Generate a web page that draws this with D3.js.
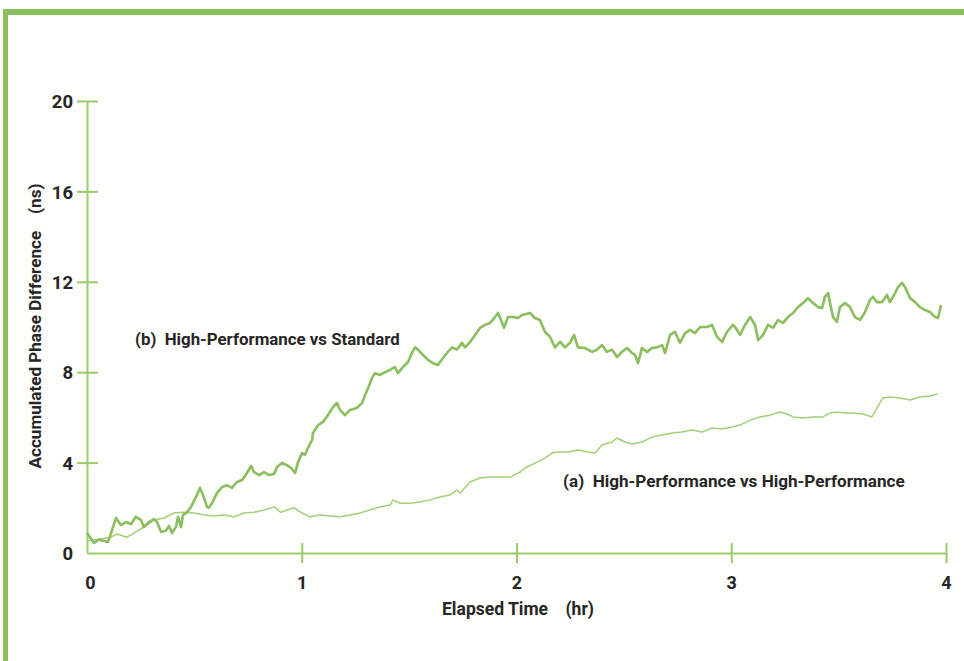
<!DOCTYPE html>
<html>
<head>
<meta charset="utf-8">
<script src="https://cdn.jsdelivr.net/npm/d3@7"></script>
<style>
  html, body { margin: 0; padding: 0; background: #fefefc; }
  svg { display: block; }
  text { font-family: Roboto, "Open Sans", sans-serif; font-weight: 700; fill: #262626; }
</style>
</head>
<body>
<svg id="chart" width="964" height="661"></svg>
<script>
// ---- Data (hours, ns) ----
const xTickValues = [0, 1, 2, 3, 4];
const yTickValues = [0, 4, 8, 12, 16, 20];
const xTitle = "Elapsed Time    (hr)";
const yTitle = "Accumulated Phase Difference    (ns)";
const labelB = "(b)  High-Performance vs Standard";
const labelA = "(a)  High-Performance vs High-Performance";

// (b) High-Performance vs Standard
const timeB = [0.000,0.033,0.056,0.079,0.098,0.112,0.135,0.158,0.182,0.205,0.228,0.251,0.265,0.289,0.312,0.326,0.345,0.368,0.382,0.396,0.414,0.424,0.438,0.447,0.466,0.484,0.508,0.526,0.540,0.559,0.568,0.582,0.605,0.629,0.652,0.675,0.698,0.722,0.745,0.764,0.778,0.801,0.824,0.848,0.871,0.885,0.908,0.931,0.950,0.969,0.983,1.001,
  1.015,1.029,1.048,1.052,1.076,1.099,1.122,1.146,1.164,1.178,1.201,1.225,1.257,1.281,1.295,1.309,1.327,1.341,1.364,1.388,1.411,1.434,1.448,1.467,1.481,1.495,1.513,1.527,1.541,1.565,1.588,1.611,1.634,1.658,1.676,1.700,1.723,1.746,1.760,1.784,1.807,1.830,1.853,1.877,1.900,1.914,1.928,1.942,1.960,1.984,2.007,
  2.026,2.063,2.086,2.109,2.133,2.156,2.179,2.203,2.226,2.249,2.268,2.286,2.319,2.352,2.375,2.398,2.421,2.445,2.468,2.491,2.515,2.538,2.552,2.566,2.584,2.608,2.631,2.654,2.678,2.692,2.715,2.738,2.761,2.785,2.808,2.831,2.855,2.887,2.910,2.934,2.957,2.980,3.008,
  3.018,3.041,3.064,3.088,3.111,3.125,3.148,3.171,3.195,3.218,3.241,3.264,3.288,3.311,3.334,3.357,3.381,3.404,3.423,3.436,3.451,3.460,3.474,3.492,3.506,3.530,3.553,3.576,3.600,3.623,3.646,3.660,3.679,3.702,3.725,3.739,3.763,3.777,3.795,3.809,3.832,3.856,3.879,3.902,3.926,3.949,3.963,3.977];
const valueB = [0.88,0.44,0.60,0.53,0.49,0.88,1.55,1.24,1.37,1.28,1.60,1.46,1.15,1.37,1.50,1.37,0.93,1.00,1.20,0.88,1.15,1.60,1.15,1.68,1.80,2.04,2.48,2.88,2.57,2.04,2.00,2.20,2.65,2.92,3.00,2.88,3.14,3.23,3.54,3.85,3.58,3.45,3.58,3.45,3.50,3.80,3.98,3.89,3.76,3.54,4.03,4.42,
  4.34,4.65,5.00,5.30,5.66,5.80,6.10,6.46,6.64,6.33,6.10,6.33,6.42,6.64,6.99,7.30,7.74,7.96,7.88,8.00,8.10,8.23,7.96,8.18,8.32,8.45,8.85,9.10,9.00,8.76,8.54,8.40,8.32,8.63,8.85,9.10,9.00,9.30,9.10,9.34,9.65,9.96,10.09,10.18,10.44,10.62,10.31,9.96,10.44,10.44,10.40,
  10.53,10.62,10.40,10.31,9.78,9.56,9.10,9.34,9.10,9.30,9.65,9.10,9.07,8.90,9.00,9.20,8.90,9.00,8.67,8.90,9.07,8.85,8.76,8.40,9.07,8.90,9.07,9.10,9.20,8.85,9.65,9.78,9.30,9.73,9.87,9.73,10.00,10.00,10.09,9.56,9.34,9.78,10.09,
  10.00,9.65,10.09,10.44,10.09,9.42,9.65,10.09,9.96,10.31,10.18,10.44,10.62,10.88,11.06,11.28,11.06,10.88,10.84,11.33,11.50,11.06,10.44,10.22,10.88,11.06,10.88,10.44,10.31,10.66,11.20,11.33,11.10,11.10,11.42,11.10,11.50,11.77,11.95,11.77,11.28,11.10,10.88,10.75,10.66,10.44,10.40,10.97];

// (a) High-Performance vs High-Performance
const timeA = [0.000,0.112,0.140,0.186,0.219,0.265,0.312,0.359,0.405,0.452,0.498,0.545,0.591,0.638,0.685,0.731,0.778,0.824,0.871,0.903,0.931,0.964,1.001,1.038,1.085,1.132,1.178,1.225,1.271,1.318,1.364,1.411,1.425,1.458,1.504,1.551,1.597,1.644,1.690,1.723,1.737,1.784,1.830,1.877,1.923,1.970,2.016,2.040,2.086,2.133,2.165,2.193,2.240,2.286,2.333,2.366,2.398,2.445,2.468,2.505,2.538,2.584,2.631,2.678,2.724,2.771,2.817,2.864,2.910,2.957,3.004,3.041,3.088,3.134,3.180,3.227,3.260,3.288,3.334,3.381,3.427,3.460,3.492,3.530,3.567,3.614,3.655,3.679,3.706,3.739,3.786,3.832,3.879,3.926,3.963];
const valueA = [0.53,0.70,0.84,0.70,0.88,1.15,1.46,1.55,1.77,1.80,1.77,1.68,1.64,1.68,1.60,1.77,1.80,1.90,2.04,1.80,1.90,2.00,1.77,1.60,1.68,1.64,1.60,1.68,1.77,1.90,2.04,2.12,2.35,2.20,2.20,2.26,2.35,2.48,2.57,2.79,2.65,3.14,3.32,3.36,3.36,3.36,3.58,3.76,3.98,4.20,4.42,4.47,4.47,4.56,4.47,4.42,4.78,4.91,5.09,4.91,4.82,4.91,5.13,5.22,5.31,5.35,5.44,5.35,5.53,5.49,5.58,5.66,5.88,6.02,6.10,6.24,6.15,6.02,5.97,6.02,6.02,6.19,6.24,6.19,6.19,6.15,6.02,6.42,6.86,6.90,6.86,6.77,6.90,6.95,7.04];

const seriesB = timeB.map((t, i) => ({ t, v: valueB[i] }));
const seriesA = timeA.map((t, i) => ({ t, v: valueA[i] }));

// ---- Layout ----
const svg = d3.select("#chart");
const green = "#8bbe5e";
const axisGreen = "#9ccb6c";

// fit a text element's font size so that it spans a target width
function fitWidth(sel, target) {
  const w = sel.node().getComputedTextLength();
  const fs = parseFloat(sel.attr("font-size"));
  sel.attr("font-size", (fs * target / w).toFixed(2));
}

// frame
svg.append("rect").attr("x", 3).attr("y", 9).attr("width", 961).attr("height", 6).attr("fill", "#8cbf5b");
svg.append("rect").attr("x", 3).attr("y", 9).attr("width", 5).attr("height", 652).attr("fill", "#8cbf5b");

const x = d3.scaleLinear().domain([0, 4]).range([87, 946]);
const y = d3.scaleLinear().domain([0, 20]).range([553, 101]);

// y axis
const yAxis = svg.append("g").attr("transform", `translate(${x(0)},0)`)
  .call(d3.axisLeft(y).tickValues(yTickValues).tickSizeOuter(0).tickSizeInner(10).tickPadding(4).tickFormat(d3.format("d")));
yAxis.select(".domain").attr("stroke", axisGreen).attr("stroke-width", 2);
yAxis.selectAll(".tick line").attr("stroke", axisGreen).attr("stroke-width", 2).attr("x1", -10).attr("x2", 11)
  .filter(d => d === 0).remove();
yAxis.selectAll(".tick text").attr("font-size", 18.5).attr("font-family", "Roboto, sans-serif").attr("font-weight", 700).attr("fill", "#262626").attr("dy", "0.36em");

// x axis
const xAxis = svg.append("g").attr("transform", `translate(0,${y(0)})`)
  .call(d3.axisBottom(x).tickValues(xTickValues).tickSizeOuter(0).tickSizeInner(10).tickPadding(13).tickFormat(d3.format("d")));
xAxis.select(".domain").attr("stroke", axisGreen).attr("stroke-width", 2);
xAxis.selectAll(".tick line").attr("stroke", axisGreen).attr("stroke-width", 2).attr("y1", -10).attr("y2", 10)
  .filter(d => d === 0).remove();
xAxis.selectAll(".tick text").attr("font-size", 18).attr("font-family", "Roboto, sans-serif").attr("font-weight", 700).attr("fill", "#262626");
xAxis.selectAll(".tick").filter(d => d === 0).select("text").attr("dx", 3);

// lines
const line = d3.line().x(d => x(d.t)).y(d => y(d.v)).curve(d3.curveLinear);
svg.append("path").datum(seriesA).attr("d", line).attr("fill", "none")
  .attr("stroke", "#a3d078").attr("stroke-width", 1.5).attr("stroke-linejoin", "round");
svg.append("path").datum(seriesB).attr("d", line).attr("fill", "none")
  .attr("stroke", green).attr("stroke-width", 2.6).attr("stroke-linejoin", "round");

// titles
const xt = svg.append("text").attr("x", 518).attr("y", 615).attr("text-anchor", "middle").attr("font-size", 16)
  .style("white-space", "pre").text(xTitle);
fitWidth(xt, 152);
const yt = svg.append("text").attr("transform", "translate(41,326) rotate(-90)").attr("text-anchor", "middle").attr("font-size", 16)
  .style("white-space", "pre").text(yTitle);
fitWidth(yt, 285);

// series labels
const lb = svg.append("text").attr("x", 135).attr("y", 345).attr("font-size", 16).style("white-space", "pre").text(labelB);
fitWidth(lb, 265);
const la = svg.append("text").attr("x", 563).attr("y", 487).attr("font-size", 16).style("white-space", "pre").text(labelA);
fitWidth(la, 342);
</script>
</body>
</html>
